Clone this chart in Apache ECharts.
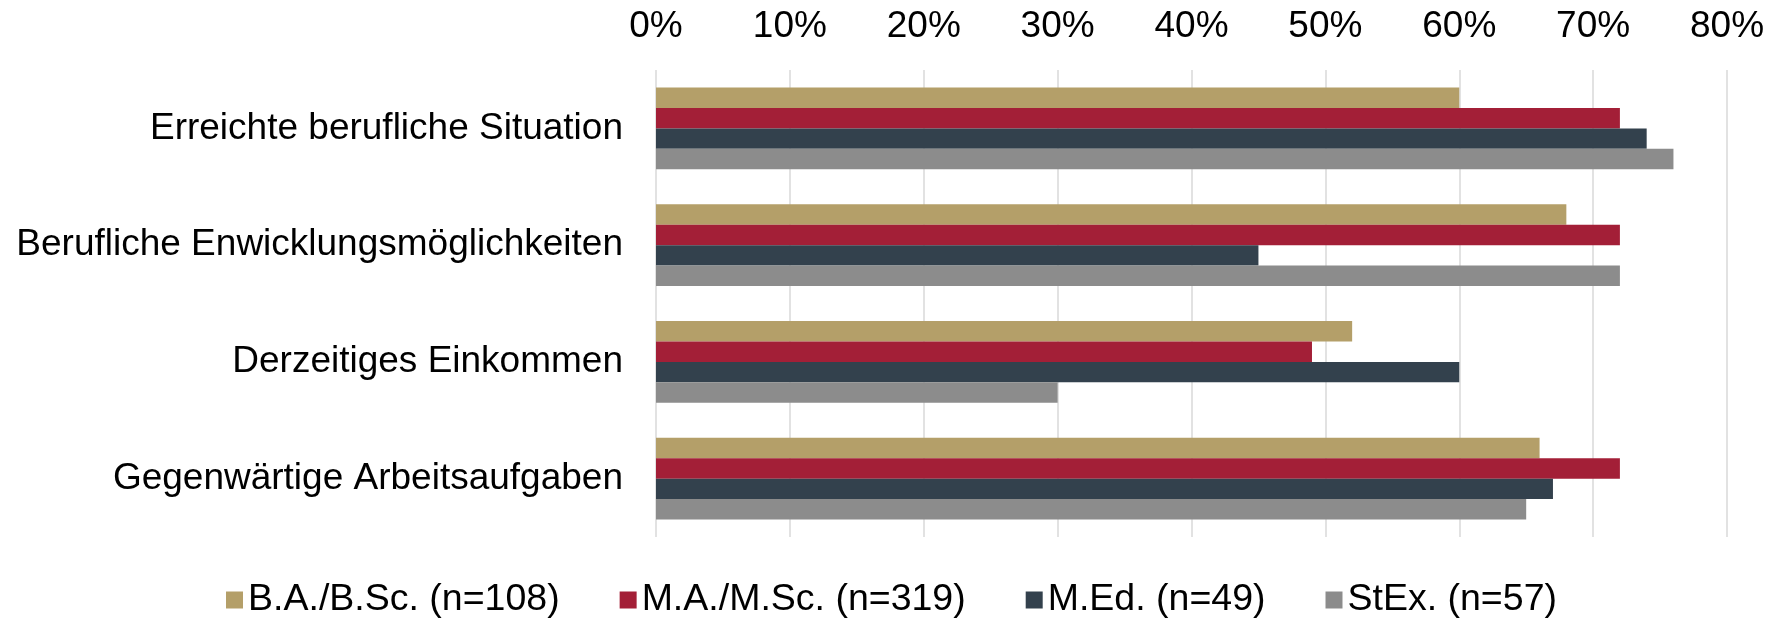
<!DOCTYPE html>
<html>
<head>
<meta charset="utf-8">
<script src="https://cdn.jsdelivr.net/npm/echarts@6/dist/echarts.min.js"></script>
<style>
html,body{margin:0;padding:0;background:#fff;}
#chart{width:1783px;height:619px;}
</style>
</head>
<body>
<div id="chart"></div>
<script>
const categories = [
  "Erreichte berufliche Situation",
  "Berufliche Enwicklungsmöglichkeiten",
  "Derzeitiges Einkommen",
  "Gegenwärtige Arbeitsaufgaben"
];
const seriesNames = ["B.A./B.Sc. (n=108)", "M.A./M.Sc. (n=319)", "M.Ed. (n=49)", "StEx. (n=57)"];
const baValues = [60, 68, 52, 66];
const maValues = [72, 72, 49, 72];
const medValues = [74, 45, 60, 67];
const stexValues = [76, 72, 30, 65];
const colors = ["#b49f69", "#a31f37", "#33414d", "#8c8c8c"];
const allValues = [baValues, maValues, medValues, stexValues];

const chart = echarts.init(document.getElementById('chart'));
const font = "Liberation Sans, Arial, sans-serif";
chart.setOption({
  animation: false,
  textStyle: { fontFamily: font },
  grid: { left: 656, right: 56, top: 70, bottom: 82 },
  legend: {
    bottom: 0,
    padding: 0,
    left: 'center',
    itemWidth: 17,
    itemHeight: 17,
    itemGap: 60,
    icon: 'rect',
    textStyle: { fontSize: 37.5, color: '#000', fontFamily: font },
    data: seriesNames
  },
  xAxis: {
    type: 'value',
    position: 'top',
    min: 0,
    max: 80,
    interval: 10,
    axisLine: { show: false },
    axisTick: { show: false },
    axisLabel: { formatter: '{value}%', fontSize: 37, color: '#000', margin: 25, fontFamily: font },
    splitLine: { show: true, lineStyle: { color: '#d9d9d9', width: 1.5 } }
  },
  yAxis: {
    type: 'category',
    inverse: true,
    data: categories,
    axisLine: { show: false },
    axisTick: { show: false },
    axisLabel: { fontSize: 37, color: '#000', margin: 33, fontFamily: font }
  },
  series: seriesNames.map((name, i) => ({
    name: name,
    type: 'bar',
    data: allValues[i],
    itemStyle: { color: colors[i] },
    barGap: '0%',
    barCategoryGap: '30%'
  }))
});
</script>
</body>
</html>
